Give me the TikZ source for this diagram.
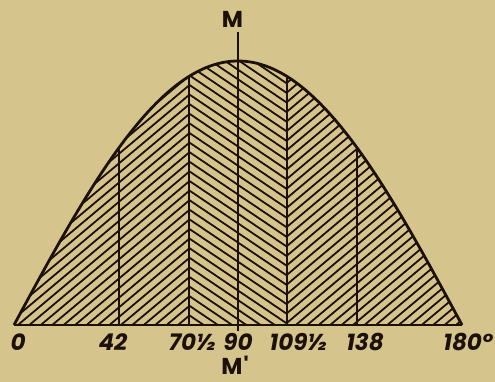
\documentclass[tikz,border=0pt]{standalone}
\usepackage{fontspec}
\setmainfont{Poppins}
\definecolor{paper}{HTML}{D5C58C}
\definecolor{ink}{HTML}{1C1009}
\tikzset{
  curve/.style={draw=ink, line width=2.8pt},
  baseln/.style={draw=ink, line width=2.4pt},
  vline/.style={draw=ink, line width=2pt},
  hatch/.style={draw=ink, line width=1.8pt},
  lab/.style={text=ink, font=\fontsize{23}{24}\selectfont\bfseries\itshape, inner sep=0pt, anchor=base, text height=16pt, text depth=0pt},
  mlab/.style={text=ink, font=\fontsize{23}{24}\selectfont\bfseries, inner sep=0pt, anchor=base, text height=16pt, text depth=0pt}
}
\begin{document}
\begin{tikzpicture}[x=1pt,y=1pt]
\fill[paper] (0,0) rectangle (495,382);
\useasboundingbox (0,0) rectangle (495,382);
% parameters
\def\xo{14}\def\sc{2.489}\def\yb{57}\def\hh{264}
\def\tt{0.8391}\def\ss{0.6745}\def\dv{9.6}
% hatching
\begin{scope}
\clip plot[domain=0:180, samples=121] ({\xo+\sc*\x},{\yb+\hh*sin(\x)}) -- cycle;
\foreach \k in {-14,...,48}{
  \pgfmathsetmacro{\yk}{\yb+\dv*\k}
  \draw[hatch] (0,{\yk-189.5*\tt}) -- (189.5,\yk);
  \draw[hatch] (189.5,\yk) -- (286.5,{\yk-97*\ss});
  \draw[hatch] (286.5,{\yk-97*\ss}) -- (495,{\yk-97*\ss+208.5*\tt});
}
\end{scope}
% verticals
\coordinate (b42) at ({\xo+\sc*42},\yb);
\coordinate (t42) at ({\xo+\sc*42},{\yb+\hh*sin(42)});
\coordinate (b70) at ({\xo+\sc*70.5},\yb);
\coordinate (t70) at ({\xo+\sc*70.5},{\yb+\hh*sin(70.5)});
\coordinate (b109) at ({\xo+\sc*109.5},\yb);
\coordinate (t109) at ({\xo+\sc*109.5},{\yb+\hh*sin(109.5)});
\coordinate (b138) at ({\xo+\sc*138},\yb);
\coordinate (t138) at ({\xo+\sc*138},{\yb+\hh*sin(138)});
\coordinate (mtop) at ({\xo+\sc*90},350);
\coordinate (mbot) at ({\xo+\sc*90},51);
\draw[vline] (b42) -- (t42);
\draw[vline] (b70) -- (t70);
\draw[vline] (b109) -- (t109);
\draw[vline] (b138) -- (t138);
\draw[vline] (mtop) -- (mbot);
% curve and base
\coordinate (p0) at (\xo,\yb);
\coordinate (p180) at ({\xo+\sc*180},\yb);
\draw[curve, line join=round] plot[domain=0:180, samples=121] ({\xo+\sc*\x},{\yb+\hh*sin(\x)});
\draw[baseln] (p0) -- (p180);
% labels
\node[lab] (l0) at (18,31) {0};
\node[lab] (l42) at (113,31) {42};
\node[lab] (l70) at (192,31) {70½};
\node[lab] (l90) at (238,31) {90};
\node[lab] (l109) at (298,31) {109½};
\node[lab] (l138) at (365,31) {138};
\node[lab] (l180) at (468,31) {180°};
\node[mlab] (M) at (232.5,354) {M};
\node[mlab] (Mp) at (235,7) {M\kern1pt\textquotesingle};
\end{tikzpicture}
\end{document}
